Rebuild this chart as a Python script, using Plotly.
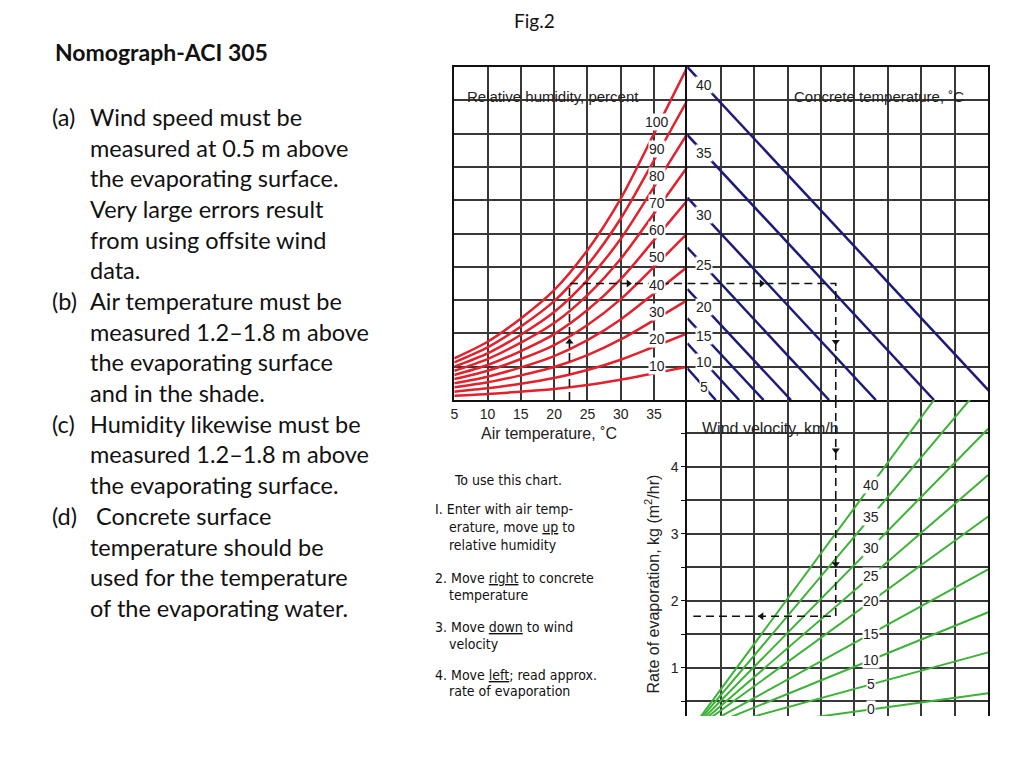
import numpy as np
import plotly.graph_objects as go

W, H = 1024, 768
PAGE_OFFSET = 8  # the page body adds an 8px margin around the figure

# Top-left panel: air temperature (deg C) against the vapour scale (grid units, 0-10)
air_temp = [5, 10, 15, 20, 25, 30, 35, 40]
air_ticks = [5, 10, 15, 20, 25, 30, 35]
rh_levels = [10, 20, 30, 40, 50, 60, 70, 80, 90, 100]
rh_curves = [
    [0.13, 0.18, 0.25, 0.33, 0.45, 0.61, 0.80, 1.00],
    [0.25, 0.35, 0.49, 0.66, 0.90, 1.21, 1.60, 2.00],
    [0.38, 0.53, 0.74, 0.99, 1.35, 1.82, 2.40, 3.00],
    [0.50, 0.70, 0.98, 1.32, 1.80, 2.42, 3.20, 4.00],
    [0.63, 0.88, 1.23, 1.65, 2.25, 3.03, 4.00, 5.00],
    [0.75, 1.05, 1.47, 1.98, 2.70, 3.63, 4.80, 6.00],
    [0.88, 1.23, 1.72, 2.31, 3.15, 4.24, 5.60, 7.00],
    [1.00, 1.40, 1.96, 2.64, 3.60, 4.84, 6.40, 8.00],
    [1.13, 1.58, 2.21, 2.97, 4.05, 5.45, 7.20, 9.00],
    [1.25, 1.75, 2.45, 3.30, 4.50, 6.05, 8.00, 10.00],
]

# Top-right panel: concrete temperature lines (start on vapour scale, end on panel base)
conc_temps = [5, 10, 15, 20, 25, 30, 35, 40]
conc_start = [0.95, 1.70, 2.45, 3.33, 4.58, 6.08, 7.96, 10.00]
conc_end = [0.85, 1.55, 2.28, 3.10, 4.24, 5.64, 7.38, 9.28]

# Bottom-right panel: wind velocity lines, evaporation rate at the right edge (x = 9)
wind_speeds = [0, 5, 10, 15, 20, 25, 30, 35, 40]
wind_evap_right = [0.62, 1.23, 1.83, 2.47, 3.26, 3.88, 4.57, 5.33, 6.10]
evap_ticks = [0.5, 1, 1.5, 2, 2.5, 3, 3.5, 4, 4.5]

# Worked example drawn as a dashed path
ex_air = 22.3
ex_vap = 3.5
ex_x = 4.44
ex_evap = 1.77
ex_end = 0.18

RED = '#e4202c'
BLUE = '#1c1c78'
GREEN = '#3cb236'
GRID = '#383838'
NOMO_FONT = 'Liberation Sans, Arial, sans-serif'
SLIDE_FONT = 'Lato, Open Sans, sans-serif'
NARROW_FONT = 'Liberation Sans Narrow, DejaVu Sans Condensed, Arial Narrow, sans-serif'


def fx(px):
    return (px - PAGE_OFFSET) / W


def fy(py):
    return 1 - (py - PAGE_OFFSET) / H


def note(x, y, text, font, xanchor='left', **kw):
    return dict(x=fx(x), y=fy(y), xref='paper', yref='paper', xanchor=xanchor, yanchor='middle',
                text=text, showarrow=False, font=font, **kw)


fig = go.Figure()

# Relative humidity curves
for rh, vals in zip(rh_levels, rh_curves):
    fig.add_trace(go.Scatter(
        x=air_temp, y=vals, mode='lines', xaxis='x', yaxis='y',
        line=dict(color=RED, width=2.5, shape='spline', smoothing=0.8),
        hoverinfo='skip'))

# Concrete temperature lines
for tc, y0, x1 in zip(conc_temps, conc_start, conc_end):
    fig.add_trace(go.Scatter(
        x=[0, x1], y=[y0, 0], mode='lines', xaxis='x2', yaxis='y2',
        line=dict(color=BLUE, width=2.5), hoverinfo='skip'))

# Wind velocity lines
for ws, e9 in zip(wind_speeds, wind_evap_right):
    fig.add_trace(go.Scatter(
        x=[0, 9], y=[0, e9], mode='lines', xaxis='x3', yaxis='y3',
        line=dict(color=GREEN, width=2), hoverinfo='skip'))

# Dashed example path
dash = dict(color='#111111', width=1.6, dash='8px,5px')
fig.add_trace(go.Scatter(x=[ex_air, ex_air, 40], y=[0, ex_vap, ex_vap], mode='lines',
                         xaxis='x', yaxis='y', line=dash, hoverinfo='skip'))
fig.add_trace(go.Scatter(x=[0, ex_x, ex_x], y=[ex_vap, ex_vap, 0], mode='lines',
                         xaxis='x2', yaxis='y2', line=dash, hoverinfo='skip'))
fig.add_trace(go.Scatter(x=[ex_x, ex_x, ex_end], y=[5.0, ex_evap, ex_evap], mode='lines',
                         xaxis='x3', yaxis='y3', line=dash, hoverinfo='skip'))

arrow = dict(color='#111111', size=7)
fig.add_trace(go.Scatter(x=[ex_air], y=[ex_vap / 2], mode='markers', xaxis='x', yaxis='y',
                         marker=dict(symbol='triangle-up', **arrow), hoverinfo='skip'))
fig.add_trace(go.Scatter(x=[(ex_air + 40) / 2], y=[ex_vap], mode='markers', xaxis='x', yaxis='y',
                         marker=dict(symbol='triangle-right', **arrow), hoverinfo='skip'))
fig.add_trace(go.Scatter(x=[ex_x / 2, ex_x], y=[ex_vap, ex_vap / 2], mode='markers',
                         xaxis='x2', yaxis='y2',
                         marker=dict(symbol=['triangle-right', 'triangle-down'], **arrow),
                         hoverinfo='skip'))
fig.add_trace(go.Scatter(x=[ex_x, ex_x, ex_x / 2], y=[4.25, 2.55, ex_evap], mode='markers',
                         xaxis='x3', yaxis='y3',
                         marker=dict(symbol=['triangle-down', 'triangle-down', 'triangle-left'], **arrow),
                         hoverinfo='skip'))

ann = []

# Curve labels
lab_font = dict(family=NOMO_FONT, size=14, color='#222222')
for rh, vals in zip(rh_levels, rh_curves):
    ann.append(dict(x=35.4, y=float(np.interp(35.4, air_temp, vals)) + 0.2, xref='x', yref='y',
                    xanchor='center', yanchor='middle',
                    text=str(rh), showarrow=False, font=lab_font, bgcolor='white', borderpad=0))
for tc, y0, x1 in zip(conc_temps, conc_start, conc_end):
    ann.append(dict(x=0.5, y=y0 * (1 - 0.5 / x1), xref='x2', yref='y2',
                    xanchor='center', yanchor='middle',
                    text=str(tc), showarrow=False, font=lab_font, bgcolor='white', borderpad=0))
for ws, e9 in zip(wind_speeds, wind_evap_right):
    ann.append(dict(x=5.5, y=e9 * 5.5 / 9, xref='x3', yref='y3',
                    xanchor='center', yanchor='middle',
                    text=str(ws), showarrow=False, font=lab_font, bgcolor='white', borderpad=0))

# Panel titles
ann += [
    note(463, 96, 'Relative humidity, percent', dict(family=NOMO_FONT, size=15, color='#222222')),
    note(791, 96, 'Concrete temperature, ˚C', dict(family=NOMO_FONT, size=15, color='#222222')),
    note(699, 428, 'Wind velocity, km/h', dict(family=NOMO_FONT, size=16, color='#222222')),
    note(477, 433, 'Air temperature, ˚C', dict(family=NOMO_FONT, size=16, color='#222222')),
    dict(x=fx(651), y=fy(584), xref='paper', yref='paper', xanchor='center', yanchor='middle',
         textangle=-90, text='Rate of evaporation, kg (m<sup>2</sup>/hr)',
         showarrow=False, font=dict(family=NOMO_FONT, size=16, color='#222222')),
]

# Instructions
steps = [
    (450, 480, 'To use this chart.'),
    (431, 509, 'I. Enter with air temp-'),
    (445, 527, 'erature, move <u>up</u> to'),
    (445, 545, 'relative humidity'),
    (431, 578, '2. Move <u>right</u> to concrete'),
    (445, 595, 'temperature'),
    (431, 627, '3. Move <u>down</u> to wind'),
    (445, 644, 'velocity'),
    (431, 675, '4. Move <u>left</u>; read approx.'),
    (445, 691, 'rate of evaporation'),
]
for x, y, t in steps:
    ann.append(note(x, y, t, dict(family=NARROW_FONT, size=14, color='#111111')))

# Slide text
slide_font = dict(family=SLIDE_FONT, size=23.5, color='#111111')
ann.append(dict(x=fx(533), y=1, xref='paper', yref='paper', xanchor='center', yanchor='top',
                text='Fig.2', showarrow=False, borderpad=0,
                font=dict(family=SLIDE_FONT, size=19, color='#111111')))
ann.append(note(49, 52, '<b>Nomograph-ACI 305</b>', dict(family=SLIDE_FONT, size=23, color='#111111')))
notes = [
    ('(a)', 'Wind speed must be'),
    ('', 'measured at 0.5 m above'),
    ('', 'the evaporating surface.'),
    ('', 'Very large errors result'),
    ('', 'from using offsite wind'),
    ('', 'data.'),
    ('(b)', 'Air temperature must be'),
    ('', 'measured 1.2–1.8 m above'),
    ('', 'the evaporating surface'),
    ('', 'and in the shade.'),
    ('(c)', 'Humidity likewise must be'),
    ('', 'measured 1.2–1.8 m above'),
    ('', 'the evaporating surface.'),
    ('(d)', ' Concrete surface'),
    ('', 'temperature should be'),
    ('', 'used for the temperature'),
    ('', 'of the evaporating water.'),
]
for i, (tag, line) in enumerate(notes):
    yy = 117 + i * 30.68
    if tag:
        ann.append(note(46, yy, tag, slide_font))
    ann.append(note(84, yy, line, slide_font))

grid_style = dict(showgrid=True, gridcolor=GRID, gridwidth=1.5, zeroline=False)
line_style = dict(showline=True, linecolor='#111111', linewidth=2)

fig.update_layout(
    width=W, height=H,
    margin=dict(l=0, r=0, t=0, b=0),
    paper_bgcolor='white', plot_bgcolor='white',
    showlegend=False,
    annotations=ann,
    xaxis=dict(domain=[fx(452), fx(686)], range=[5, 40], anchor='y',
               tickvals=air_ticks, ticks='', ticklen=0, mirror=True,
               tickfont=dict(family=NOMO_FONT, size=14, color='#222222'),
               **grid_style, **line_style),
    yaxis=dict(domain=[fy(400), fy(67)], range=[0, 10], anchor='x', dtick=1,
               showticklabels=False, **grid_style, **line_style),
    xaxis2=dict(domain=[fx(686), fx(988)], range=[0, 9], anchor='y2', dtick=1, mirror=True,
                showticklabels=False, **grid_style, **line_style),
    yaxis2=dict(domain=[fy(400), fy(67)], range=[0, 10], anchor='x2', dtick=1, mirror=True,
                showticklabels=False, **grid_style, **line_style),
    xaxis3=dict(domain=[fx(686), fx(988)], range=[0, 9], anchor='y3', dtick=1,
                showticklabels=False, showline=False, **grid_style),
    yaxis3=dict(domain=[fy(716), fy(400)], range=[0.28, 5.0], anchor='x3',
                tickvals=evap_ticks, mirror=True,
                ticktext=['' if v != int(v) else str(int(v)) for v in evap_ticks],
                ticks='outside', ticklen=4, tickcolor='#111111',
                tickfont=dict(family=NOMO_FONT, size=14, color='#222222'),
                **grid_style, **line_style),
)

fig.write_html("out.html")
